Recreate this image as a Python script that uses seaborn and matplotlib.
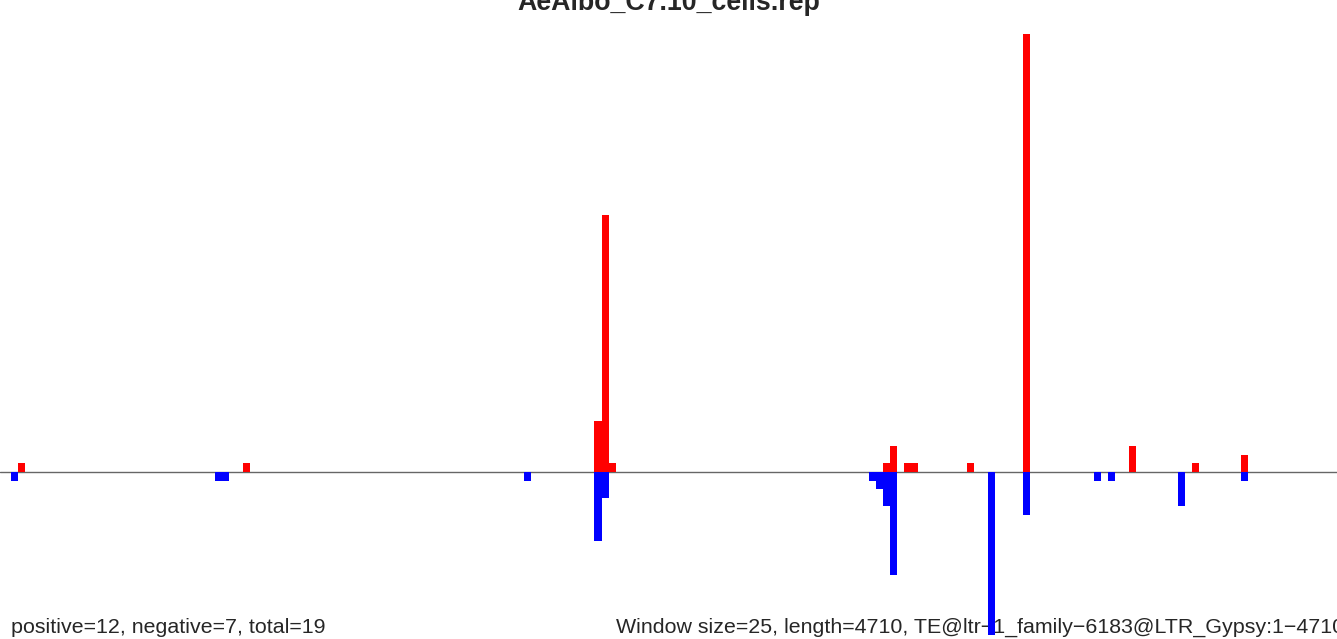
import pandas as pd
import matplotlib
matplotlib.use("Agg")
import matplotlib.pyplot as plt
import seaborn as sns

# window index (25 bp windows) and height of the bar
pos_windows = [1, 33, 83, 84, 85, 124, 125, 127, 128, 136, 144, 159, 168, 175]
pos_values = [1, 1, 6, 30, 1, 1, 3, 1, 1, 1, 51, 3, 1, 2]
neg_windows = [0, 29, 30, 73, 83, 84, 122, 123, 124, 125, 139, 144, 154, 156, 166, 175]
neg_values = [1, 1, 1, 1, 8, 3, 1, 2, 4, 12, 19, 5, 1, 1, 4, 1]

title = "AeAlbo_C7.10_cells.rep"
left_note = "positive=12, negative=7, total=19"
right_note = "Window size=25, length=4710, TE@ltr\u22121_family\u22126183@LTR_Gypsy:1\u22124710"

df = pd.concat([
  pd.DataFrame({"window": pos_windows, "count": pos_values, "strand": "pos"}),
  pd.DataFrame({"window": neg_windows, "count": [-v for v in neg_values], "strand": "neg"}),
])

sns.set_style("white")
plt.rcParams["font.family"] = ["Liberation Sans", "DejaVu Sans"]

fig = plt.figure(figsize=(13.37, 6.39), dpi=100)
ax = fig.add_axes([0, 0, 1, 1])

sns.barplot(
  data=df,
  x="window",
  y="count",
  hue="strand",
  palette={"pos": "#FF0000", "neg": "#0000FF"},
  saturation=1,
  native_scale=True,
  dodge=False,
  width=1,
  linewidth=0,
  legend=False,
  ax=ax,
)

ax.axhline(0, color="#666666", linewidth=1, zorder=0.8)
ax.set_xlim(-2.065, 188.12)
ax.set_ylim(-19.46, 55.0)
ax.set_axis_off()

# texts sit under the bars, as in the original (the big blue bar crosses the note)
ax.text(0.5, 1 - 10 / 639, title, transform=fig.transFigure, ha="center",
        va="baseline", fontsize=19.3, fontweight="bold", clip_on=False, zorder=0.5)
ax.text(11 / 1337, 1 - 633 / 639, left_note, transform=fig.transFigure, ha="left",
        va="baseline", fontsize=15.4, clip_on=False, zorder=0.5)
ax.text(616 / 1337, 1 - 633 / 639, right_note, transform=fig.transFigure, ha="left",
        va="baseline", fontsize=15.4, clip_on=False, zorder=0.5)

fig.savefig("out.png", dpi=100)
plt.close(fig)
